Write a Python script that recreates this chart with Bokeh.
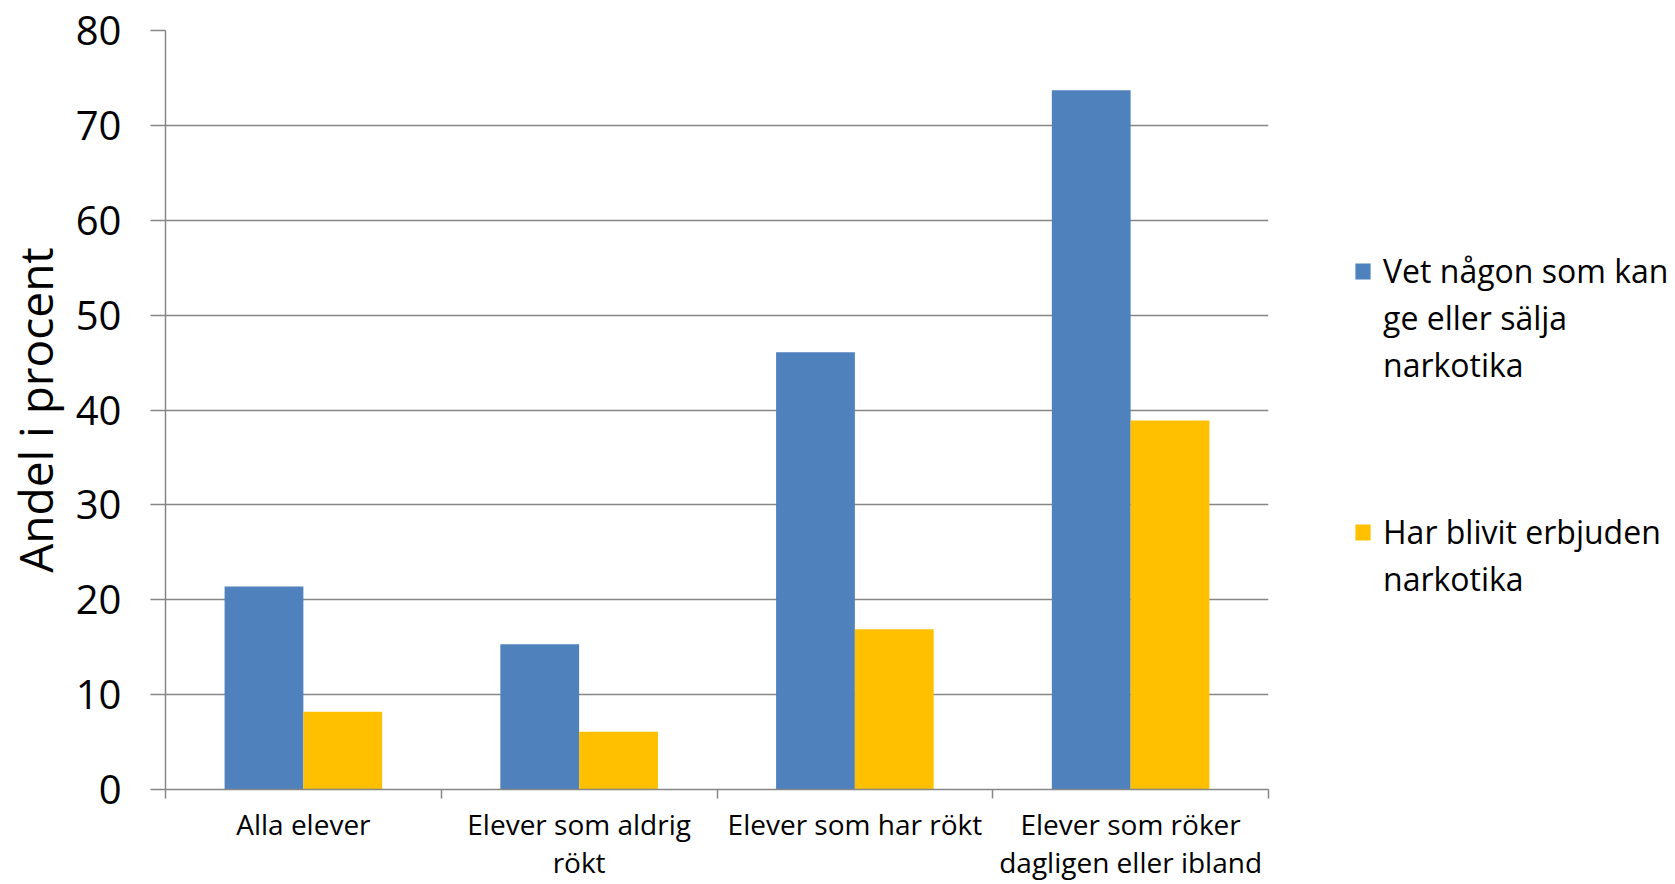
from bokeh.plotting import figure
from bokeh.models import (Range1d, FixedTicker, Legend, LegendItem, ColumnDataSource)
from bokeh.transform import dodge
from bokeh.embed import file_html
from bokeh.resources import INLINE

# ---- data ----
categories = ["Alla elever", "Elever som aldrig rökt", "Elever som har rökt",
              "Elever som röker dagligen eller ibland"]
category_labels = ["Alla elever", "Elever som aldrig\nrökt", "Elever som har rökt",
                   "Elever som röker\ndagligen eller ibland"]
series_1_lines = ["Vet någon som kan", "ge eller sälja", "narkotika"]
series_2_lines = ["Har blivit erbjuden", "narkotika"]
vet_nagon = [21.4, 15.3, 46.1, 73.7]
erbjuden = [8.2, 6.1, 16.9, 38.9]
y_ticks = [0, 10, 20, 30, 40, 50, 60, 70, 80]
y_title = "Andel i procent"

BLUE = "#4F81BD"
YELLOW = "#FFC000"
GRID = "#868686"
FONT = "Open Sans"

n = len(categories)
centers = [i + 0.5 for i in range(n)]          # category slot centres
src = ColumnDataSource(dict(cat=categories, pos=centers, vet=vet_nagon, erb=erbjuden))

p = figure(frame_width=1103, frame_height=759, x_range=Range1d(0, n),
           y_range=Range1d(0, 80), output_backend="svg", toolbar_location=None,
           min_border_left=157, min_border_right=398,
           min_border_top=30, min_border_bottom=87)
p.outline_line_color = None
p.background_fill_color = "white"
p.border_fill_color = "white"

bw = 1 / 3.5   # Excel gap width 150 %
r1 = p.vbar(x=dodge("pos", -bw / 2), top="vet", width=bw,
            source=src, fill_color=BLUE, line_color=None)
r2 = p.vbar(x=dodge("pos", bw / 2), top="erb", width=bw,
            source=src, fill_color=YELLOW, line_color=None)
# invisible renderer used only for legend continuation / spacer lines
blank = p.vbar(x=[], top=[], width=bw, fill_alpha=0, line_alpha=0)

# y axis
ya = p.yaxis[0]
ya.ticker = FixedTicker(ticks=y_ticks)
ya.axis_line_color = GRID
ya.axis_line_width = 1.5
ya.major_tick_line_color = GRID
ya.major_tick_line_width = 1.5
ya.major_tick_out = 15
ya.major_tick_in = 0
ya.minor_tick_line_color = None
ya.minor_tick_out = 0
ya.major_label_standoff = 29
ya.major_label_text_font = FONT
ya.major_label_text_font_size = "40px"
ya.major_label_text_color = "#000000"
ya.axis_label = y_title
ya.axis_label_text_font = FONT
ya.axis_label_text_font_size = "46px"
ya.axis_label_text_font_style = "normal"
ya.axis_label_text_color = "#000000"
ya.axis_label_standoff = 7

p.ygrid.ticker = FixedTicker(ticks=y_ticks)
p.ygrid.grid_line_color = GRID
p.ygrid.grid_line_width = 1.5
p.xgrid.grid_line_color = None

# x axis: labels at category centres, tick marks at category boundaries
xa = p.xaxis[0]
xa.ticker = FixedTicker(ticks=centers, minor_ticks=list(range(n + 1)))
xa.major_label_overrides = {c: lab for c, lab in zip(centers, category_labels)}
xa.axis_line_color = GRID
xa.axis_line_width = 1.5
xa.major_tick_out = 0
xa.major_tick_in = 0
xa.minor_tick_line_color = GRID
xa.minor_tick_line_width = 1.5
xa.minor_tick_out = 9
xa.minor_tick_in = 0
xa.major_label_standoff = 6
xa.major_label_text_font = FONT
xa.major_label_text_font_size = "28px"
xa.major_label_text_line_height = 1.0
xa.major_label_text_color = "#000000"

items = [LegendItem(label=series_1_lines[0], renderers=[r1])]
items += [LegendItem(label=t, renderers=[blank]) for t in series_1_lines[1:]]
items += [LegendItem(label=" ", renderers=[blank]) for _ in range(5)]
items += [LegendItem(label=series_2_lines[0], renderers=[r2])]
items += [LegendItem(label=t, renderers=[blank]) for t in series_2_lines[1:]]

legend = Legend(items=items, location=(85, 189), orientation="vertical")
legend.border_line_color = None
legend.background_fill_alpha = 0
legend.padding = 0
legend.margin = 0
legend.spacing = 4
legend.glyph_width = 19
legend.glyph_height = 20
legend.label_standoff = 11
legend.label_text_font = FONT
legend.label_text_font_size = "32px"
legend.label_text_color = "#000000"
legend.label_text_line_height = 0.96
p.add_layout(legend, "right")

open("out.html", "w").write(file_html(p, INLINE))
